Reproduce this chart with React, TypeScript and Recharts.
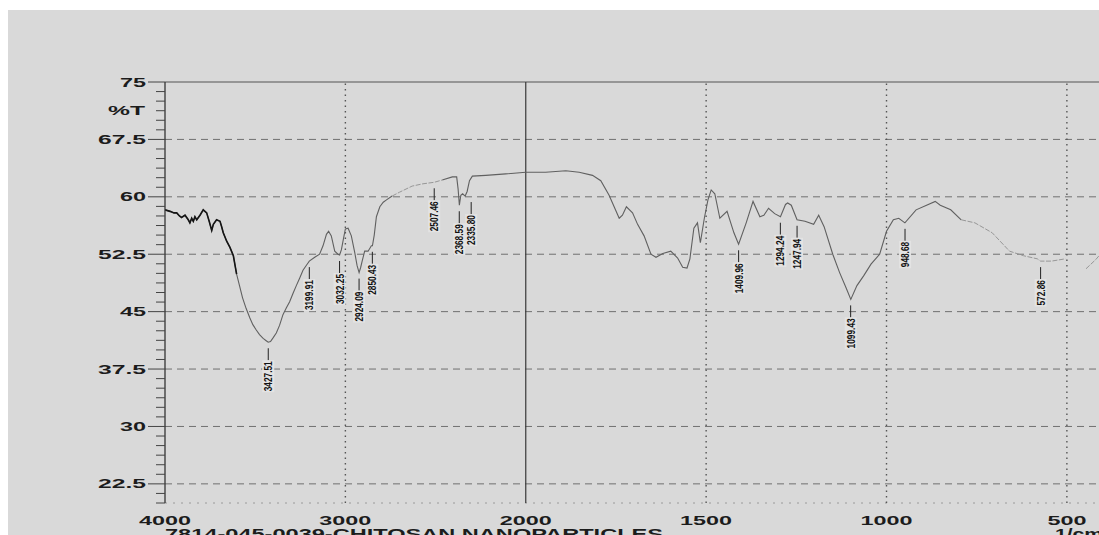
import React from "react";
import {
  ComposedChart,
  Line,
  ReferenceDot,
  ReferenceLine,
  XAxis,
  YAxis,
} from "recharts";

// trace of the scan: wavenumber (1/cm) and %T, paired by index
const wavenumbers = [
  4000, 3972, 3950, 3935, 3920, 3908, 3889, 3871, 3862, 3852, 3843, 3834, 3824, 3806, 3788, 3769,
  3755, 3741, 3732, 3714, 3695, 3686, 3677, 3658, 3640, 3621, 3603, 3587, 3570, 3550, 3530, 3513,
  3494, 3476, 3456, 3439, 3428, 3415, 3400, 3383, 3365, 3346, 3327, 3309, 3290, 3272, 3253, 3235,
  3215, 3200, 3170, 3143, 3124, 3105, 3093, 3078, 3059, 3041, 3032, 3022, 3010, 3000, 2985, 2967,
  2948, 2935, 2924, 2915, 2907, 2893, 2874, 2856, 2850, 2840, 2828, 2809, 2790, 2772, 2741, 2700,
  2630, 2570, 2507, 2463, 2407, 2383, 2375, 2368, 2360, 2350, 2336, 2325, 2312, 2296, 2222, 2111,
  2000, 1945, 1889, 1852, 1815, 1792, 1769, 1755, 1741, 1732, 1721, 1704, 1690, 1672, 1653, 1639,
  1620, 1598, 1579, 1565, 1553, 1545, 1534, 1524, 1516, 1505, 1495, 1486, 1476, 1462, 1442, 1423,
  1410, 1389, 1370, 1351, 1340, 1327, 1310, 1294, 1280, 1274, 1264, 1248, 1226, 1202, 1188, 1173,
  1149, 1130, 1111, 1099, 1082, 1063, 1043, 1019, 1000, 981, 966, 949, 918, 889, 865, 851,
  822, 793, 755, 707, 659, 620, 582, 573, 543, 504, 480, 447, 420, 411,
];
const transmittance: (number | null)[] = [
  58.3, 58.1, 57.9, 57.9, 57.5, 57.3, 57.6, 57.0, 56.6, 57.2, 56.8, 57.4, 57.0, 57.6, 58.3, 57.9,
  56.8, 55.6, 56.4, 57.0, 56.8, 56.1, 55.3, 54.2, 53.4, 52.3, 49.9, 48.4, 46.8, 45.4, 44.2, 43.3,
  42.6, 42.0, 41.5, 41.2, 41.0, 41.1, 41.6, 42.2, 43.2, 44.6, 45.5, 46.3, 47.4, 48.4, 49.4, 50.4,
  51.1, 51.6, 52.1, 52.5, 53.6, 55.1, 55.5, 54.9, 52.9, 52.5, 52.4, 53.1, 54.6, 55.8, 55.9, 54.9,
  52.7, 51.0, 50.1, 50.8, 51.6, 52.9, 52.9, 53.6, 53.6, 55.0, 57.4, 58.7, 59.3, 59.6, 60.1, 60.6,
  61.4, 61.7, 61.9, 62.2, 62.6, 62.6, 61.0, 58.9, 60.2, 60.4, 60.1, 60.7, 62.1, 62.7, 62.8, 63.0,
  63.2, 63.2, 63.4, 63.2, 62.8, 62.1, 60.2, 58.7, 57.2, 57.6, 58.7, 57.9, 56.4, 54.9, 52.5, 52.1,
  52.6, 52.9, 52.0, 50.8, 50.7, 51.9, 55.9, 56.6, 54.0, 57.2, 59.6, 60.9, 60.4, 57.2, 58.1, 55.3,
  53.8, 56.6, 59.4, 57.4, 57.6, 58.5, 57.8, 57.4, 59.0, 59.2, 58.9, 57.0, 56.8, 56.4, 57.6, 56.1,
  52.5, 50.1, 48.0, 46.6, 48.4, 49.7, 51.2, 52.5, 55.5, 57.0, 57.2, 56.6, 58.3, 58.9, 59.4, 58.9,
  58.3, 57.0, 56.6, 55.3, 52.9, 52.3, 51.9, 51.6, 51.6, 51.9, null, 50.6, 51.8, 52.3,
];

// picked peaks
const peakWavenumbers = [
  3427.51, 3199.91, 3032.25, 2924.09, 2850.43, 2507.46, 2368.59, 2335.8, 1409.96, 1294.24,
  1247.94, 1099.43, 948.68, 572.86,
];
const peakTransmittance = [
  41.0, 51.6, 52.4, 50.1, 53.6, 61.9, 58.9, 60.1, 53.8, 57.4, 57.0, 46.6, 56.6, 51.6,
];

const xTickLabels = [4000, 3000, 2000, 1500, 1000, 500];
const xEndWavenumber = 411;
const yMajorTicks = [22.5, 30, 37.5, 45, 52.5, 60, 67.5, 75];
const yDomain: [number, number] = [20, 75];

const BG = "#d9d9d9";
const INK = "#1c1c1c";
const FONT = "'Liberation Sans', Arial, sans-serif";

// scan runs 4000 -> 2000 at one scale and is expanded 2x below 2000
const toPos = (w: number) => (w >= 2000 ? 4000 - w : 2000 + (2000 - w) * 2);

const yTicks: number[] = [];
for (let v = yDomain[0]; v <= yDomain[1]; v += 1.25) yTicks.push(v);

// the recorder fades the trace in a couple of stretches
const isFaint = (wn: number) => (wn <= 2741 && wn >= 2463) || wn <= 793;
const isDark = (wn: number) => wn >= 3600;

const data = wavenumbers.map((wn, i) => ({
  pos: toPos(wn),
  wn,
  t: transmittance[i],
  main: wn > 2741 || (wn < 2463 && wn > 793) || wn === 2741 || wn === 2463 || wn === 793 ? transmittance[i] : null,
  faint: isFaint(wn) ? transmittance[i] : null,
  dark: isDark(wn) ? transmittance[i] : null,
}));

// push crowded peak labels apart along the axis
const LABEL_GAP = 66;
const peakLabelPos: number[] = [];
peakWavenumbers.forEach((w, i) => {
  const p = toPos(w);
  const prev = i > 0 ? peakLabelPos[i - 1] : -Infinity;
  peakLabelPos.push(p - prev < LABEL_GAP ? prev + LABEL_GAP : p);
});

// stretched glyph widths of the printed labels
const wideLen = (s: string) => [...s].reduce((a, c) => a + (c === "." ? 9 : 13), 0);
const narrowLen = (s: string) => [...s].reduce((a, c) => a + (c === "." ? 2.4 : 4.6), 0);

function YTick(props: any) {
  const { x, y, payload } = props;
  const v = payload.value as number;
  const major = yMajorTicks.includes(v);
  const len = major ? 17 : 9;
  const s = String(v);
  return (
    <g>
      <line x1={x - len} x2={x} y1={y} y2={y} stroke="#444" strokeWidth={1} />
      {major && (
        <text
          x={x - 19}
          y={y}
          dy={4.5}
          textAnchor="end"
          fontFamily={FONT}
          fontWeight="bold"
          fontSize={12.5}
          fill={INK}
          textLength={wideLen(s)}
          lengthAdjust="spacingAndGlyphs"
        >
          {s}
        </text>
      )}
    </g>
  );
}

function XTick(props: any) {
  const { x, y, payload } = props;
  const s = String(xTickLabels[xTickLabels.map(toPos).indexOf(payload.value)]);
  return (
    <text
      x={x}
      y={y}
      dy={22}
      textAnchor="middle"
      fontFamily={FONT}
      fontWeight="bold"
      fontSize={12.5}
      fill={INK}
      textLength={wideLen(s)}
      lengthAdjust="spacingAndGlyphs"
    >
      {s}
    </text>
  );
}

function PeakMark({ cx, cy, text }: { cx: number; cy: number; text: string }) {
  const len = narrowLen(text);
  const top = cy + 18;
  const mid = top + 1 + len / 2;
  return (
    <g>
      <line x1={cx} x2={cx} y1={cy + 6} y2={top} stroke="#222" strokeWidth={1} />
      <rect x={cx - 6} y={top} width={12} height={len + 2} fill="#e3e3e3" />
      <text
        transform={`translate(${cx},${mid}) rotate(-90)`}
        textAnchor="middle"
        dominantBaseline="central"
        fontFamily={FONT}
        fontWeight="bold"
        fontSize={11.5}
        fill="#111"
        textLength={len}
        lengthAdjust="spacingAndGlyphs"
      >
        {text}
      </text>
    </g>
  );
}

export default function App() {
  return (
    <div
      style={{
        position: "absolute",
        left: 0,
        top: 0,
        width: 1099,
        height: 535,
        background: "#fff",
        overflow: "hidden",
      }}
    >
      <div
        style={{
          position: "absolute",
          left: 8,
          top: 10,
          width: 1091,
          height: 525,
          background: BG,
        }}
      >
        <ComposedChart
          width={1091}
          height={525}
          data={data}
          margin={{ top: 72, right: 0, bottom: 0, left: 97 }}
        >
          <XAxis
            dataKey="pos"
            type="number"
            domain={[0, toPos(xEndWavenumber)]}
            ticks={xTickLabels.map(toPos)}
            interval={0}
            height={32}
            axisLine={false}
            tickLine={false}
            tickSize={0}
            tickMargin={0}
            tick={<XTick />}
            allowDataOverflow
          />
          <YAxis
            type="number"
            domain={yDomain}
            ticks={yTicks}
            interval={0}
            width={60}
            axisLine={{ stroke: "#333", strokeWidth: 1.3 }}
            tickLine={false}
            tickSize={0}
            tickMargin={0}
            tick={<YTick />}
            allowDataOverflow
          />
          {yMajorTicks
            .filter((v) => v < yDomain[1])
            .map((v) => (
              <ReferenceLine key={`h${v}`} y={v} stroke="#707070" strokeDasharray="7 5" />
            ))}
          <ReferenceLine y={yDomain[1]} stroke="#555" strokeWidth={1.2} />
          <ReferenceLine y={yDomain[0]} stroke="#9a9a9a" strokeDasharray="2 6" />
          {xTickLabels.slice(1).map((w) => (
            <ReferenceLine
              key={`v${w}`}
              x={toPos(w)}
              stroke={w === 2000 ? "#3a3a3a" : "#555"}
              strokeWidth={w === 2000 ? 1.2 : 1.4}
              strokeDasharray={w === 2000 ? undefined : "1.5 4"}
            />
          ))}
          <Line
            dataKey="main"
            type="linear"
            stroke="#606060"
            strokeWidth={1.1}
            dot={false}
            activeDot={false}
            isAnimationActive={false}
          />
          <Line
            dataKey="faint"
            type="linear"
            stroke="#979797"
            strokeWidth={1}
            strokeDasharray="5 1.5"
            dot={false}
            activeDot={false}
            isAnimationActive={false}
          />
          <Line
            dataKey="dark"
            type="linear"
            stroke="#151515"
            strokeWidth={1.6}
            dot={false}
            activeDot={false}
            isAnimationActive={false}
          />
          {peakWavenumbers.map((w, i) => (
            <ReferenceDot
              key={`p${w}`}
              x={peakLabelPos[i]}
              y={peakTransmittance[i]}
              r={0}
              shape={(p: any) => <PeakMark cx={p.cx} cy={p.cy} text={w.toFixed(2)} />}
            />
          ))}
        </ComposedChart>
        <svg
          width={1091}
          height={525}
          style={{ position: "absolute", left: 0, top: 0, pointerEvents: "none" }}
        >
          <text
            x={137}
            y={104.5}
            textAnchor="end"
            fontFamily={FONT}
            fontWeight="bold"
            fontSize={12.5}
            fill={INK}
            textLength={37}
            lengthAdjust="spacingAndGlyphs"
          >
            %T
          </text>
          <text
            x={157}
            y={529}
            fontFamily={FONT}
            fontWeight="bold"
            fontSize={14}
            fill={INK}
            textLength={498}
            lengthAdjust="spacingAndGlyphs"
          >
            7814-045-0039-CHITOSAN NANOPARTICLES
          </text>
          <text
            x={1047}
            y={529}
            fontFamily={FONT}
            fontWeight="bold"
            fontSize={14}
            fill={INK}
            textLength={48}
            lengthAdjust="spacingAndGlyphs"
          >
            1/cm
          </text>
        </svg>
      </div>
    </div>
  );
}
